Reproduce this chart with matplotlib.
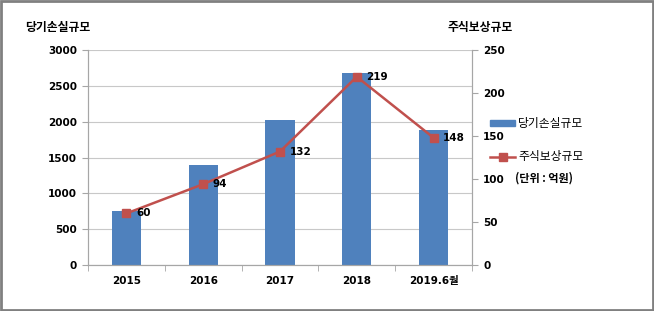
import matplotlib
matplotlib.use('Agg')
import matplotlib.pyplot as plt
from matplotlib.patches import Rectangle
from matplotlib.lines import Line2D

plt.rcParams['font.family'] = ['Noto Sans CJK KR', 'DejaVu Sans']
plt.rcParams['font.weight'] = 'bold'

years = ['2015', '2016', '2017', '2018', '2019.6월']
loss = [750, 1400, 2030, 2680, 1880]        # 당기손실규모
stock = [60, 94, 132, 219, 148]             # 주식보상규모

blue = '#4F81BD'
red = '#C0504D'
gray = '#A6A6A6'
num_font = ['DejaVu Sans', 'Noto Sans CJK KR']

fig = plt.figure(figsize=(6.54, 3.11), dpi=100)
ax = fig.add_axes([0.1346, 0.148, 0.587, 0.691])
x = list(range(len(years)))

ax.bar(x, loss, width=0.38, color=blue, zorder=2)
ax.set_ylim(0, 3000)
ax.set_xlim(-0.5, len(years) - 0.5)
ax.set_yticks(range(0, 3001, 500))
ax.grid(axis='y', color='#C8C8C8', linewidth=0.8, zorder=0)
ax.set_xticks(x)
ax.set_xticklabels(years)
ax.set_xticks([i + 0.5 for i in range(-1, len(years))], minor=True)
ax.tick_params(axis='x', which='major', length=0, pad=8, labelsize=7.5)
ax.tick_params(axis='x', which='minor', length=4, color=gray)
ax.tick_params(axis='y', length=4, color=gray, labelsize=7.5, pad=4)

ax2 = ax.twinx()
ax2.plot(x, stock, color=red, linewidth=1.8, marker='s', markersize=6, zorder=3)
ax2.set_ylim(0, 250)
ax2.set_yticks(range(0, 251, 50))
ax2.tick_params(axis='y', length=4, color=gray, labelsize=7.5, pad=4)
for xi, v in zip(x, stock):
    ax2.annotate(str(v), (xi, v), xytext=(7, 0), textcoords='offset points',
                 va='center', ha='left', fontsize=7.5, fontweight='bold', family=num_font)

for lbl in ax.get_xticklabels() + ax.get_yticklabels() + ax2.get_yticklabels():
    lbl.set_family(num_font)

for a in (ax, ax2):
    a.spines['top'].set_visible(False)
    for s in ('left', 'right', 'bottom'):
        a.spines[s].set_color(gray)
ax.set_zorder(ax2.get_zorder() - 1)
ax2.patch.set_visible(False)

fig.text(25 / 654, 1 - 27 / 311, '당기손실규모', fontsize=8.5, fontweight='bold', va='center')
fig.text(448 / 654, 1 - 27 / 311, '주식보상규모', fontsize=8.5, fontweight='bold', va='center')

# legend
fig.patches.append(Rectangle((490 / 654, 1 - 126 / 311), 25 / 654, 6 / 311,
                             color=blue, transform=fig.transFigure))
fig.text(518 / 654, 1 - 123 / 311, '당기손실규모', fontsize=8.5, fontweight='medium', va='center')
fig.lines.append(Line2D([490 / 654, 515 / 654], [1 - 157 / 311] * 2, color=red, linewidth=1.8,
                        transform=fig.transFigure))
fig.lines.append(Line2D([502.5 / 654], [1 - 157 / 311], color=red, marker='s', markersize=6,
                        transform=fig.transFigure))
fig.text(518 / 654, 1 - 157 / 311, '주식보상규모', fontsize=8.5, fontweight='medium', va='center')
fig.text(515 / 654, 1 - 178 / 311, '(단위 : 억원)', fontsize=8, va='center')

# outer frame
fig.patches.append(Rectangle((0.002, 0.004), 0.996, 0.992, fill=False, edgecolor='#808080',
                             linewidth=2, transform=fig.transFigure))

fig.savefig('out.png', dpi=100)
